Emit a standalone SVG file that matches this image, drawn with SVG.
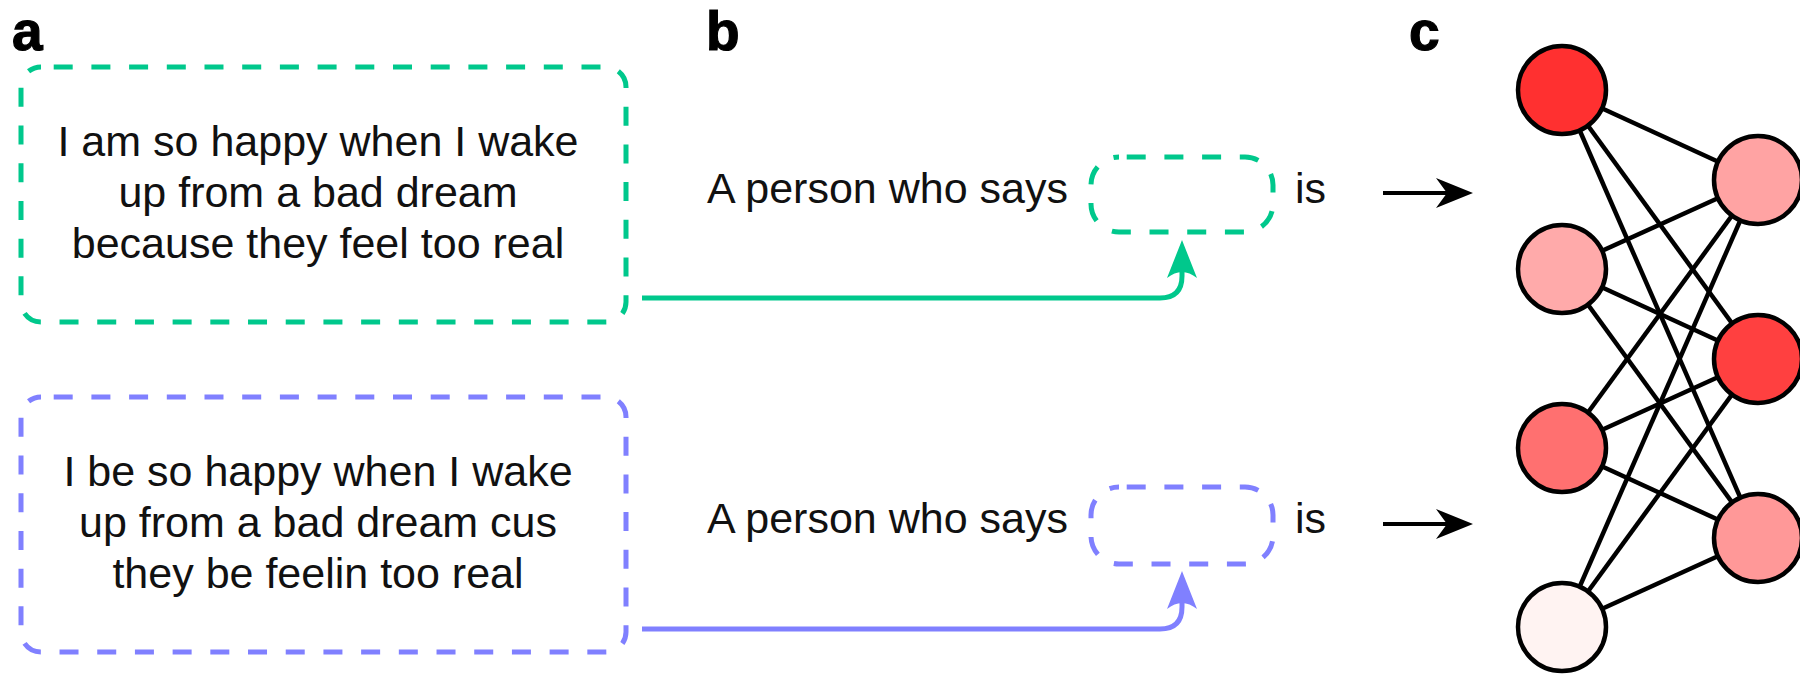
<svg xmlns="http://www.w3.org/2000/svg" width="1800" height="675" viewBox="0 0 1800 675">
<style>
.lbl{font-family:"Liberation Sans",Arial,sans-serif;font-weight:bold;font-size:55px;fill:#000;stroke:#000;stroke-width:1.2}
.t{font-family:"Liberation Sans",Arial,sans-serif;font-size:43px;fill:#111}
.tc{text-anchor:middle}
.dg{fill:none;stroke:#00c88c;stroke-width:5;stroke-dasharray:19 18.7}
.dp{fill:none;stroke:#8080ff;stroke-width:5;stroke-dasharray:19 18.7}
.cg{fill:none;stroke:#00c88c;stroke-width:5}
.cp{fill:none;stroke:#8080ff;stroke-width:5}
.edge{stroke:#000;stroke-width:4.5}
.nn{stroke:#000;stroke-width:4.5}
</style>
<rect width="1800" height="675" fill="#fff"/>
<text class="lbl" x="12" y="50">a</text>
<text class="lbl" x="706" y="50">b</text>
<text class="lbl" x="1409" y="50">c</text>

<g id="box-a1">
<rect class="dg" x="21" y="67" width="605" height="255" rx="20" stroke-dashoffset="25"/>
<text class="t tc" x="318" y="156">I am so happy when I wake</text>
<text class="t tc" x="318" y="207">up from a bad dream</text>
<text class="t tc" x="318" y="258">because they feel too real</text>
</g>
<g id="box-a2">
<rect class="dp" x="21" y="397" width="605" height="255" rx="20" stroke-dashoffset="25"/>
<text class="t tc" x="318" y="486">I be so happy when I wake</text>
<text class="t tc" x="318" y="537">up from a bad dream cus</text>
<text class="t tc" x="318" y="588">they be feelin too real</text>
</g>

<g id="prompt-1">
<text class="t" x="707" y="203">A person who says</text>
<rect class="dg" x="1091" y="157" width="182" height="75" rx="28" stroke-dashoffset="30"/>
<text class="t" x="1295" y="203">is</text>
</g>
<g id="prompt-2">
<text class="t" x="707" y="533">A person who says</text>
<rect class="dp" x="1091" y="487" width="182" height="77" rx="28" stroke-dashoffset="30"/>
<text class="t" x="1295" y="533">is</text>
</g>

<g id="connectors">
<path class="cg" d="M642,298 H1160 Q1182,298 1182,276 V266"/>
<path fill="#00c88c" d="M1182,240 L1197,278 Q1182,266 1167,278 Z"/>
<path class="cp" d="M642,629 H1160 Q1182,629 1182,607 V597"/>
<path fill="#8080ff" d="M1182,571 L1197,609 Q1182,597 1167,609 Z"/>
<path stroke="#000" stroke-width="4" d="M1383,193 H1455"/>
<path fill="#000" d="M1473,193 L1436,178 L1447,193 L1436,208 Z"/>
<path stroke="#000" stroke-width="4" d="M1383,524 H1455"/>
<path fill="#000" d="M1473,524 L1436,509 L1447,524 L1436,539 Z"/>
<g id="edges">
<line class="edge" x1="1562" y1="90" x2="1758" y2="180"/>
<line class="edge" x1="1562" y1="90" x2="1758" y2="359"/>
<line class="edge" x1="1562" y1="90" x2="1758" y2="538"/>
<line class="edge" x1="1562" y1="269" x2="1758" y2="180"/>
<line class="edge" x1="1562" y1="269" x2="1758" y2="359"/>
<line class="edge" x1="1562" y1="269" x2="1758" y2="538"/>
<line class="edge" x1="1562" y1="448" x2="1758" y2="180"/>
<line class="edge" x1="1562" y1="448" x2="1758" y2="359"/>
<line class="edge" x1="1562" y1="448" x2="1758" y2="538"/>
<line class="edge" x1="1562" y1="627" x2="1758" y2="180"/>
<line class="edge" x1="1562" y1="627" x2="1758" y2="359"/>
<line class="edge" x1="1562" y1="627" x2="1758" y2="538"/>
</g>
</g>

<g id="n-in1"><circle class="nn" cx="1562" cy="90" r="44" fill="#ff3030"/></g>
<g id="n-in2"><circle class="nn" cx="1562" cy="269" r="44" fill="#ffaaaa"/></g>
<g id="n-in3"><circle class="nn" cx="1562" cy="448" r="44" fill="#ff7070"/></g>
<g id="n-in4"><circle class="nn" cx="1562" cy="627" r="44" fill="#fff3f2"/></g>
<g id="n-h1"><circle class="nn" cx="1758" cy="180" r="44" fill="#ffa3a3"/></g>
<g id="n-h2"><circle class="nn" cx="1758" cy="359" r="44" fill="#ff4040"/></g>
<g id="n-h3"><circle class="nn" cx="1758" cy="538" r="44" fill="#ff9898"/></g>
</svg>
